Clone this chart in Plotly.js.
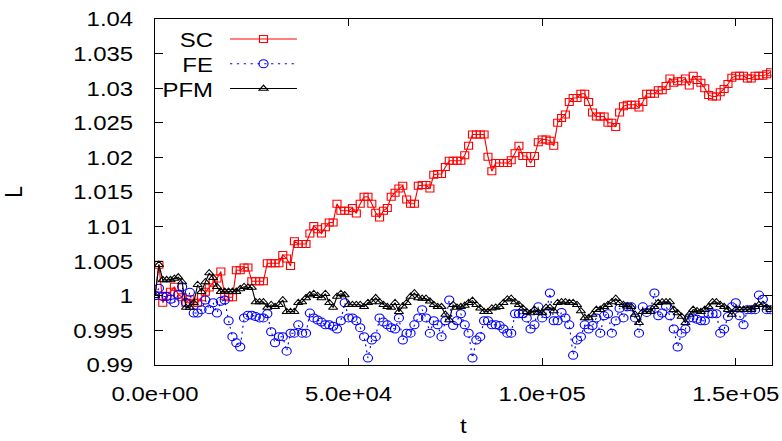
<!DOCTYPE html>
<html>
<head>
<meta charset="utf-8">
<script src="https://cdn.plot.ly/plotly-3.0.1.min.js"></script>
<style>
html,body{margin:0;padding:0;overflow:hidden;background:#fff;}
#wrap{width:686px;height:441px;transform:scaleX(1.13994);transform-origin:0 0;}
</style>
</head>
<body>
<div id="wrap"></div>
<script>
const t = [
0,1000,2000,3000,4000,5000,6000,7000,8000,9000,
10000,11000,12000,13000,14000,15000,16000,17000,18000,19000,
20000,21000,22000,23000,24000,25000,26000,27000,28000,29000,
30000,31000,32000,33000,34000,35000,36000,37000,38000,39000,
40000,41000,42000,43000,44000,45000,46000,47000,48000,49000,
50000,51000,52000,53000,54000,55000,56000,57000,58000,59000,
60000,61000,62000,63000,64000,65000,66000,67000,68000,69000,
70000,71000,72000,73000,74000,75000,76000,77000,78000,79000,
80000,81000,82000,83000,84000,85000,86000,87000,88000,89000,
90000,91000,92000,93000,94000,95000,96000,97000,98000,99000,
100000,101000,102000,103000,104000,105000,106000,107000,108000,109000,
110000,111000,112000,113000,114000,115000,116000,117000,118000,119000,
120000,121000,122000,123000,124000,125000,126000,127000,128000,129000,
130000,131000,132000,133000,134000,135000,136000,137000,138000,139000,
140000,141000,142000,143000,144000,145000,146000,147000,148000,149000,
150000,151000,152000,153000,154000,155000,156000,157000,158000,159000
];

const SC = [
1.0000,1.0045,0.9990,1.0000,1.0006,1.0013,1.0002,0.9998,0.9990,0.9995,
0.9990,0.9990,0.9998,1.0006,1.0012,1.0019,1.0025,1.0035,1.0000,0.9998,
0.9998,1.0037,1.0037,1.0041,1.0041,1.0021,1.0021,1.0021,1.0021,1.0047,
1.0047,1.0047,1.0047,1.0059,1.0054,1.0043,1.0079,1.0075,1.0075,1.0075,
1.0090,1.0101,1.0096,1.0090,1.0099,1.0106,1.0106,1.0133,1.0123,1.0123,
1.0123,1.0127,1.0119,1.0133,1.0143,1.0143,1.0133,1.0120,1.0113,1.0123,
1.0127,1.0143,1.0149,1.0155,1.0159,1.0139,1.0133,1.0133,1.0159,1.0160,
1.0160,1.0155,1.0175,1.0176,1.0176,1.0186,1.0195,1.0195,1.0195,1.0195,
1.0203,1.0217,1.0233,1.0233,1.0233,1.0233,1.0201,1.0180,1.0192,1.0192,
1.0192,1.0192,1.0196,1.0206,1.0217,1.0202,1.0202,1.0192,1.0202,1.0222,
1.0226,1.0226,1.0224,1.0217,1.0250,1.0257,1.0262,1.0280,1.0286,1.0286,
1.0292,1.0292,1.0280,1.0265,1.0259,1.0259,1.0259,1.0250,1.0250,1.0244,
1.0265,1.0274,1.0276,1.0276,1.0276,1.0272,1.0280,1.0292,1.0292,1.0292,
1.0297,1.0297,1.0303,1.0314,1.0308,1.0310,1.0310,1.0314,1.0304,1.0318,
1.0312,1.0308,1.0300,1.0290,1.0288,1.0288,1.0294,1.0299,1.0306,1.0315,
1.0318,1.0318,1.0318,1.0314,1.0314,1.0318,1.0318,1.0318,1.0320,1.0323
];

const FE = [
1.0000,1.0011,0.9999,0.9999,0.9995,0.9990,1.0002,1.0013,0.9990,1.0005,
0.9975,0.9975,0.9980,0.9994,0.9980,0.9990,0.9975,0.9992,0.9994,0.9964,
0.9941,0.9932,0.9926,0.9968,0.9972,0.9972,0.9970,0.9968,0.9968,0.9974,
0.9948,0.9932,0.9941,0.9941,0.9920,0.9946,0.9946,0.9958,0.9946,0.9946,
0.9975,0.9968,0.9965,0.9962,0.9958,0.9958,0.9956,0.9952,0.9964,0.9990,
0.9968,0.9968,0.9964,0.9954,0.9941,0.9910,0.9936,0.9941,0.9968,0.9962,
0.9958,0.9954,0.9952,0.9968,0.9936,0.9946,0.9946,0.9958,0.9968,0.9980,
0.9968,0.9946,0.9964,0.9958,0.9941,0.9964,0.9994,0.9957,0.9964,0.9974,
0.9958,0.9946,0.9910,0.9936,0.9941,0.9964,0.9964,0.9958,0.9958,0.9957,
0.9952,0.9946,0.9946,0.9974,0.9974,0.9974,0.9968,0.9952,0.9958,0.9984,
0.9968,0.9974,1.0004,0.9964,0.9964,0.9976,0.9968,0.9958,0.9914,0.9936,
0.9941,0.9958,0.9952,0.9957,0.9968,0.9946,0.9971,0.9974,0.9946,0.9964,
0.9982,0.9968,0.9984,0.9984,0.9968,0.9946,0.9984,0.9976,0.9980,1.0004,
0.9971,0.9975,0.9985,0.9971,0.9952,0.9926,0.9946,0.9952,0.9968,0.9968,
0.9966,0.9964,0.9964,0.9974,0.9974,0.9974,0.9946,0.9952,0.9970,0.9984,
0.9990,0.9971,0.9958,0.9980,0.9980,0.9980,1.0001,0.9995,0.9980,0.9980
];

const PFM = [
1.0000,1.0045,1.0023,1.0023,1.0023,1.0025,1.0027,1.0020,0.9983,0.9983,
0.9990,1.0016,1.0006,1.0020,1.0033,1.0026,1.0013,1.0006,1.0006,1.0006,
1.0006,1.0006,1.0010,1.0013,1.0012,1.0012,0.9991,0.9991,0.9991,0.9983,
0.9987,0.9984,0.9987,0.9994,0.9977,0.9977,0.9977,0.9990,0.9991,0.9997,
1.0001,1.0003,1.0000,0.9997,1.0003,0.9990,0.9983,0.9999,1.0003,1.0001,
0.9987,0.9987,0.9987,0.9987,0.9984,0.9990,0.9991,0.9997,0.9991,0.9987,
0.9984,0.9983,0.9990,0.9977,0.9985,0.9990,0.9999,1.0004,0.9997,0.9996,
0.9996,0.9992,0.9987,0.9984,0.9984,0.9973,0.9965,0.9987,0.9983,0.9984,
0.9986,0.9990,0.9993,0.9987,0.9982,0.9977,0.9977,0.9982,0.9983,0.9984,
0.9990,0.9995,0.9996,0.9991,0.9987,0.9982,0.9977,0.9975,0.9980,0.9976,
0.9975,0.9983,0.9983,0.9978,0.9990,0.9991,0.9991,0.9990,0.9990,0.9987,
0.9978,0.9968,0.9968,0.9973,0.9980,0.9980,0.9984,0.9987,0.9991,0.9996,
0.9990,0.9987,0.9985,0.9984,0.9973,0.9961,0.9977,0.9977,0.9977,0.9984,
0.9990,0.9991,0.9991,0.9991,0.9980,0.9975,0.9970,0.9961,0.9973,0.9980,
0.9978,0.9977,0.9980,0.9984,0.9991,0.9991,0.9987,0.9984,0.9980,0.9973,
0.9980,0.9980,0.9980,0.9980,0.9980,0.9984,0.9987,0.9987,0.9983,0.9980
];

const seriesNames = ['SC', 'FE', 'PFM'];
const xTickVals = [0, 50000, 100000, 150000];
const xTickText = ['0.0e+00', '5.0e+04', '1.0e+05', '1.5e+05'];
const yTickVals = [0.99, 0.995, 1.0, 1.005, 1.01, 1.015, 1.02, 1.025, 1.03, 1.035, 1.04];
const yTickText = ['0.99', '0.995', '1', '1.005', '1.01', '1.015', '1.02', '1.025', '1.03', '1.035', '1.04'];

const FONT = 'Liberation Sans, Arial, Helvetica, sans-serif';

const traces = [
  {x: t, y: SC, name: seriesNames[0], type: 'scatter', mode: 'lines+markers',
   line: {color: '#ff0000', width: 1},
   marker: {symbol: 'square-open', size: 7, color: '#ff0000', line: {width: 1, color: '#ff0000'}}},
  {x: t, y: FE, name: seriesNames[1], type: 'scatter', mode: 'lines+markers',
   line: {color: '#0000ff', width: 1, dash: '2px,4px'},
   marker: {symbol: 'circle-open', size: 8, color: '#0000ff', line: {width: 1, color: '#0000ff'}}},
  {x: t, y: PFM, name: seriesNames[2], type: 'scatter', mode: 'lines+markers',
   line: {color: '#000000', width: 1},
   marker: {symbol: 'triangle-up-open', size: 7, color: '#000000', line: {width: 1, color: '#000000'}}}
];

const axisCommon = {
  ticks: 'inside', ticklen: 7, tickwidth: 1, tickcolor: '#000',
  mirror: 'ticks', showline: true, linecolor: '#000', linewidth: 1,
  showgrid: false, zeroline: false, tickmode: 'array',
  tickfont: {family: FONT, size: 21, color: '#000'}
};

const layout = {
  width: 686, height: 441,
  margin: {l: 136, r: 9, t: 19, b: 76, pad: 0},
  paper_bgcolor: '#fff', plot_bgcolor: '#fff',
  font: {family: FONT, size: 21, color: '#000'},
  showlegend: true,
  legend: {x: 0, y: 1, xanchor: 'left', yanchor: 'top', bgcolor: 'rgba(0,0,0,0)',
           borderwidth: 0, font: {family: FONT, size: 21, color: '#000'}},
  xaxis: Object.assign({}, axisCommon, {
    range: [0, 159300], tickvals: xTickVals, ticktext: xTickText,
    ticklabelstandoff: 10,
    title: {text: 't', standoff: 14, font: {family: FONT, size: 21, color: '#000'}}
  }),
  yaxis: Object.assign({}, axisCommon, {
    range: [0.99, 1.04], tickvals: yTickVals, ticktext: yTickText,
    ticklabelstandoff: 14,
    title: {text: 'L', standoff: 38, font: {family: FONT, size: 21, color: '#000'}}
  })
};

const gd = document.getElementById('wrap');

// gnuplot-style key: label on the left (right aligned), line sample with marker on the right
function styleKey() {
  const rowsY = [39, 63.8, 88.6];
  const sampleX0 = 201.8, sampleLen = 58.7, textRight = 186.8;
  gd.querySelectorAll('.legend .scrollbox').forEach(function (s) {
    s.removeAttribute('clip-path');
    s.style.clipPath = 'none';
  });
  const items = gd.querySelectorAll('.legend .traces');
  items.forEach(function (g, k) {
    const m = g.parentNode.getCTM();
    g.setAttribute('transform', 'translate(' + (sampleX0 - m.e) + ',' + (rowsY[k] - m.f) + ')');
    g.querySelectorAll('.legendlines path').forEach(function (p) {
      p.setAttribute('d', 'M0,0h' + sampleLen);
    });
    g.querySelectorAll('.legendpoints path').forEach(function (p) {
      p.setAttribute('transform', 'translate(' + (sampleLen / 2) + ',0)');
    });
    const tx = g.querySelector('text.legendtext');
    if (tx) {
      tx.setAttribute('x', textRight - sampleX0);
      tx.setAttribute('text-anchor', 'end');
      tx.style.textAnchor = 'end';
    }
  });
}

Plotly.newPlot(gd, traces, layout, {staticPlot: true, displayModeBar: false}).then(function () {
  styleKey();
  setTimeout(styleKey, 50);
});
</script>
</body>
</html>
